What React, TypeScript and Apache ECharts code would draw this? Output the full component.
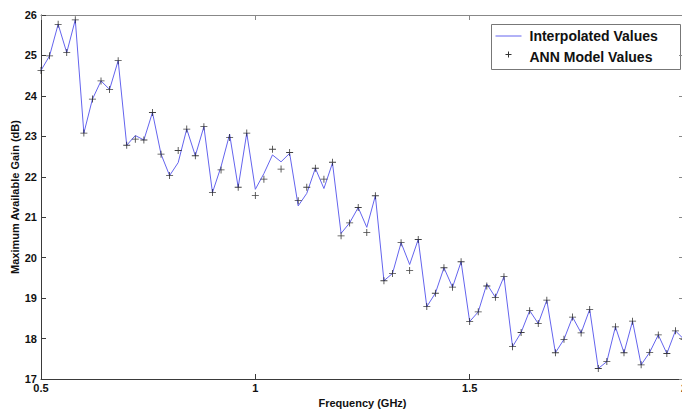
import React, { useEffect, useRef } from "react";
import * as echarts from "echarts";

const freqGHz = [
  0.5, 0.52, 0.54, 0.56, 0.58, 0.6, 0.62, 0.64, 0.66, 0.68,
  0.7, 0.72, 0.74, 0.76, 0.78, 0.8, 0.82, 0.84, 0.86, 0.88,
  0.9, 0.92, 0.94, 0.96, 0.98, 1.0, 1.02, 1.04, 1.06, 1.08,
  1.1, 1.12, 1.14, 1.16, 1.18, 1.2, 1.22, 1.24, 1.26, 1.28,
  1.3, 1.32, 1.34, 1.36, 1.38, 1.4, 1.42, 1.44, 1.46, 1.48,
  1.5, 1.52, 1.54, 1.56, 1.58, 1.6, 1.62, 1.64, 1.66, 1.68,
  1.7, 1.72, 1.74, 1.76, 1.78, 1.8, 1.82, 1.84, 1.86, 1.88,
  1.9, 1.92, 1.94, 1.96, 1.98, 2.0,
];

const interpolatedValues = [
  24.63, 24.99, 25.77, 25.07, 25.88, 23.08, 23.92, 24.37, 24.16, 24.87,
  22.78, 23.02, 22.91, 23.59, 22.56, 22.03, 22.35, 23.18, 22.52, 23.24,
  21.61, 22.25, 23.05, 21.74, 23.08, 21.69, 22.08, 22.54, 22.37, 22.58,
  21.28, 21.59, 22.21, 21.71, 22.34, 20.6, 20.86, 21.24, 20.75, 21.53,
  19.43, 19.61, 20.37, 19.83, 20.45, 18.79, 19.12, 19.75, 19.27, 19.9,
  18.42, 18.66, 19.35, 19.02, 19.53, 17.8, 18.15, 18.69, 18.37, 18.95,
  17.65, 17.98, 18.53, 18.14, 18.72, 17.26, 17.43, 18.29, 17.65, 18.43,
  17.35, 17.66, 18.09, 17.63, 18.19, 17.98,
];

const annModelValues = [
  24.63, 24.99, 25.77, 25.07, 25.88, 23.08, 23.92, 24.37, 24.16, 24.87,
  22.78, 22.93, 22.91, 23.59, 22.56, 22.03, 22.65, 23.18, 22.52, 23.24,
  21.61, 22.17, 22.97, 21.74, 23.08, 21.54, 21.94, 22.68, 22.19, 22.6,
  21.41, 21.74, 22.21, 21.94, 22.36, 20.54, 20.86, 21.24, 20.62, 21.53,
  19.43, 19.61, 20.37, 19.68, 20.45, 18.79, 19.12, 19.75, 19.27, 19.9,
  18.42, 18.66, 19.3, 19.02, 19.53, 17.8, 18.15, 18.69, 18.37, 18.95,
  17.65, 17.98, 18.53, 18.14, 18.72, 17.26, 17.43, 18.29, 17.65, 18.43,
  17.35, 17.66, 18.09, 17.63, 18.19, 17.98,
];

const legendNames = ["Interpolated Values", "ANN Model Values"];
const xAxisTitle = "Frequency (GHz)";
const yAxisTitle = "Maximum Available Gain (dB)";

const PLUS =
  "path://M-0.6,-5H0.6V-0.6H5V0.6H0.6V5H-0.6V0.6H-5V-0.6H-0.6Z";

export default function App() {
  const ref = useRef<HTMLDivElement>(null);
  useEffect(() => {
    document.body.style.margin = "0";
    const chart = echarts.init(ref.current!, null, { renderer: "svg" });
    const font = "Arial, 'Liberation Sans', sans-serif";
    const axisColor = "#3a3a3a";
    const lineData = freqGHz.map((f, i) => [f, interpolatedValues[i]]);
    const annData = freqGHz.map((f, i) => [f, annModelValues[i]]);
    chart.setOption({
      animation: false,
      backgroundColor: "#ffffff",
      grid: {
        left: 41,
        right: -2,
        top: 15,
        bottom: 35,
        containLabel: false,
        outerBoundsMode: "none",
      },
      xAxis: [
        {
          type: "value",
          min: 0.5,
          max: 2,
          interval: 0.5,
          position: "bottom",
          name: xAxisTitle,
          nameLocation: "middle",
          nameGap: 16,
          nameTextStyle: { fontFamily: font, fontWeight: "bold", fontSize: 11, color: "#111" },
          axisLine: { show: true, lineStyle: { color: axisColor, width: 1 } },
          axisTick: { show: true, inside: true, length: 5, lineStyle: { color: axisColor } },
          axisLabel: { fontFamily: font, fontWeight: "bold", fontSize: 11, color: "#111", margin: 3, hideOverlap: false },
          splitLine: { show: false },
        },
        {
          type: "value",
          min: 0.5,
          max: 2,
          interval: 0.5,
          position: "top",
          axisLine: { show: true, lineStyle: { color: "#888", width: 1 } },
          axisTick: { show: true, inside: true, length: 5, lineStyle: { color: "#888" } },
          axisLabel: { show: false },
          splitLine: { show: false },
        },
      ],
      yAxis: [
        {
          type: "value",
          min: 17,
          max: 26,
          interval: 1,
          position: "left",
          name: yAxisTitle,
          nameLocation: "middle",
          nameGap: 21,
          nameMoveOverlap: false,
          nameRotate: 90,
          nameTextStyle: { fontFamily: font, fontWeight: "bold", fontSize: 11, color: "#111" },
          axisLine: { show: true, lineStyle: { color: axisColor, width: 1 } },
          axisTick: { show: true, inside: true, length: 5, lineStyle: { color: axisColor } },
          axisLabel: { fontFamily: font, fontWeight: "bold", fontSize: 11, color: "#111", margin: 4 },
          splitLine: { show: false },
        },
        {
          type: "value",
          min: 17,
          max: 26,
          interval: 1,
          position: "right",
          axisLine: { show: true, lineStyle: { color: "#888", width: 1 } },
          axisTick: { show: true, inside: true, length: 5, lineStyle: { color: "#888" } },
          axisLabel: { show: false },
          splitLine: { show: false },
        },
      ],
      series: [
        {
          name: legendNames[0],
          type: "line",
          data: lineData,
          showSymbol: false,
          symbol: "none",
          lineStyle: { color: "#6464ee", width: 1 },
          z: 2,
        },
        {
          name: legendNames[1],
          type: "scatter",
          data: annData,
          symbol: PLUS,
          symbolSize: 7,
          itemStyle: { color: "#111" },
          z: 3,
        },
      ],
      graphic: [
        {
          type: "group",
          left: 491,
          top: 24,
          children: [
            {
              type: "rect",
              shape: { x: 0, y: 0, width: 189, height: 45 },
              style: { fill: "#fff", stroke: "#777", lineWidth: 1 },
            },
            {
              type: "line",
              shape: { x1: 4, y1: 11.5, x2: 30, y2: 11.5 },
              style: { stroke: "#6464ee", lineWidth: 1 },
            },
            {
              type: "text",
              x: 38,
              y: 11.5,
              style: {
                text: legendNames[0],
                fontFamily: font,
                fontWeight: "bold",
                fontSize: 14,
                fill: "#111",
                verticalAlign: "middle",
              },
            },
            {
              type: "line",
              shape: { x1: 14, y1: 30, x2: 20, y2: 30 },
              style: { stroke: "#333", lineWidth: 1 },
            },
            {
              type: "line",
              shape: { x1: 17, y1: 27, x2: 17, y2: 33 },
              style: { stroke: "#333", lineWidth: 1 },
            },
            {
              type: "text",
              x: 38,
              y: 32,
              style: {
                text: legendNames[1],
                fontFamily: font,
                fontWeight: "bold",
                fontSize: 14,
                fill: "#111",
                verticalAlign: "middle",
              },
            },
          ],
        },
      ],
    });
    return () => chart.dispose();
  }, []);
  return (
    <div
      ref={ref}
      style={{ position: "absolute", left: 0, top: 0, width: 682, height: 414 }}
    />
  );
}
